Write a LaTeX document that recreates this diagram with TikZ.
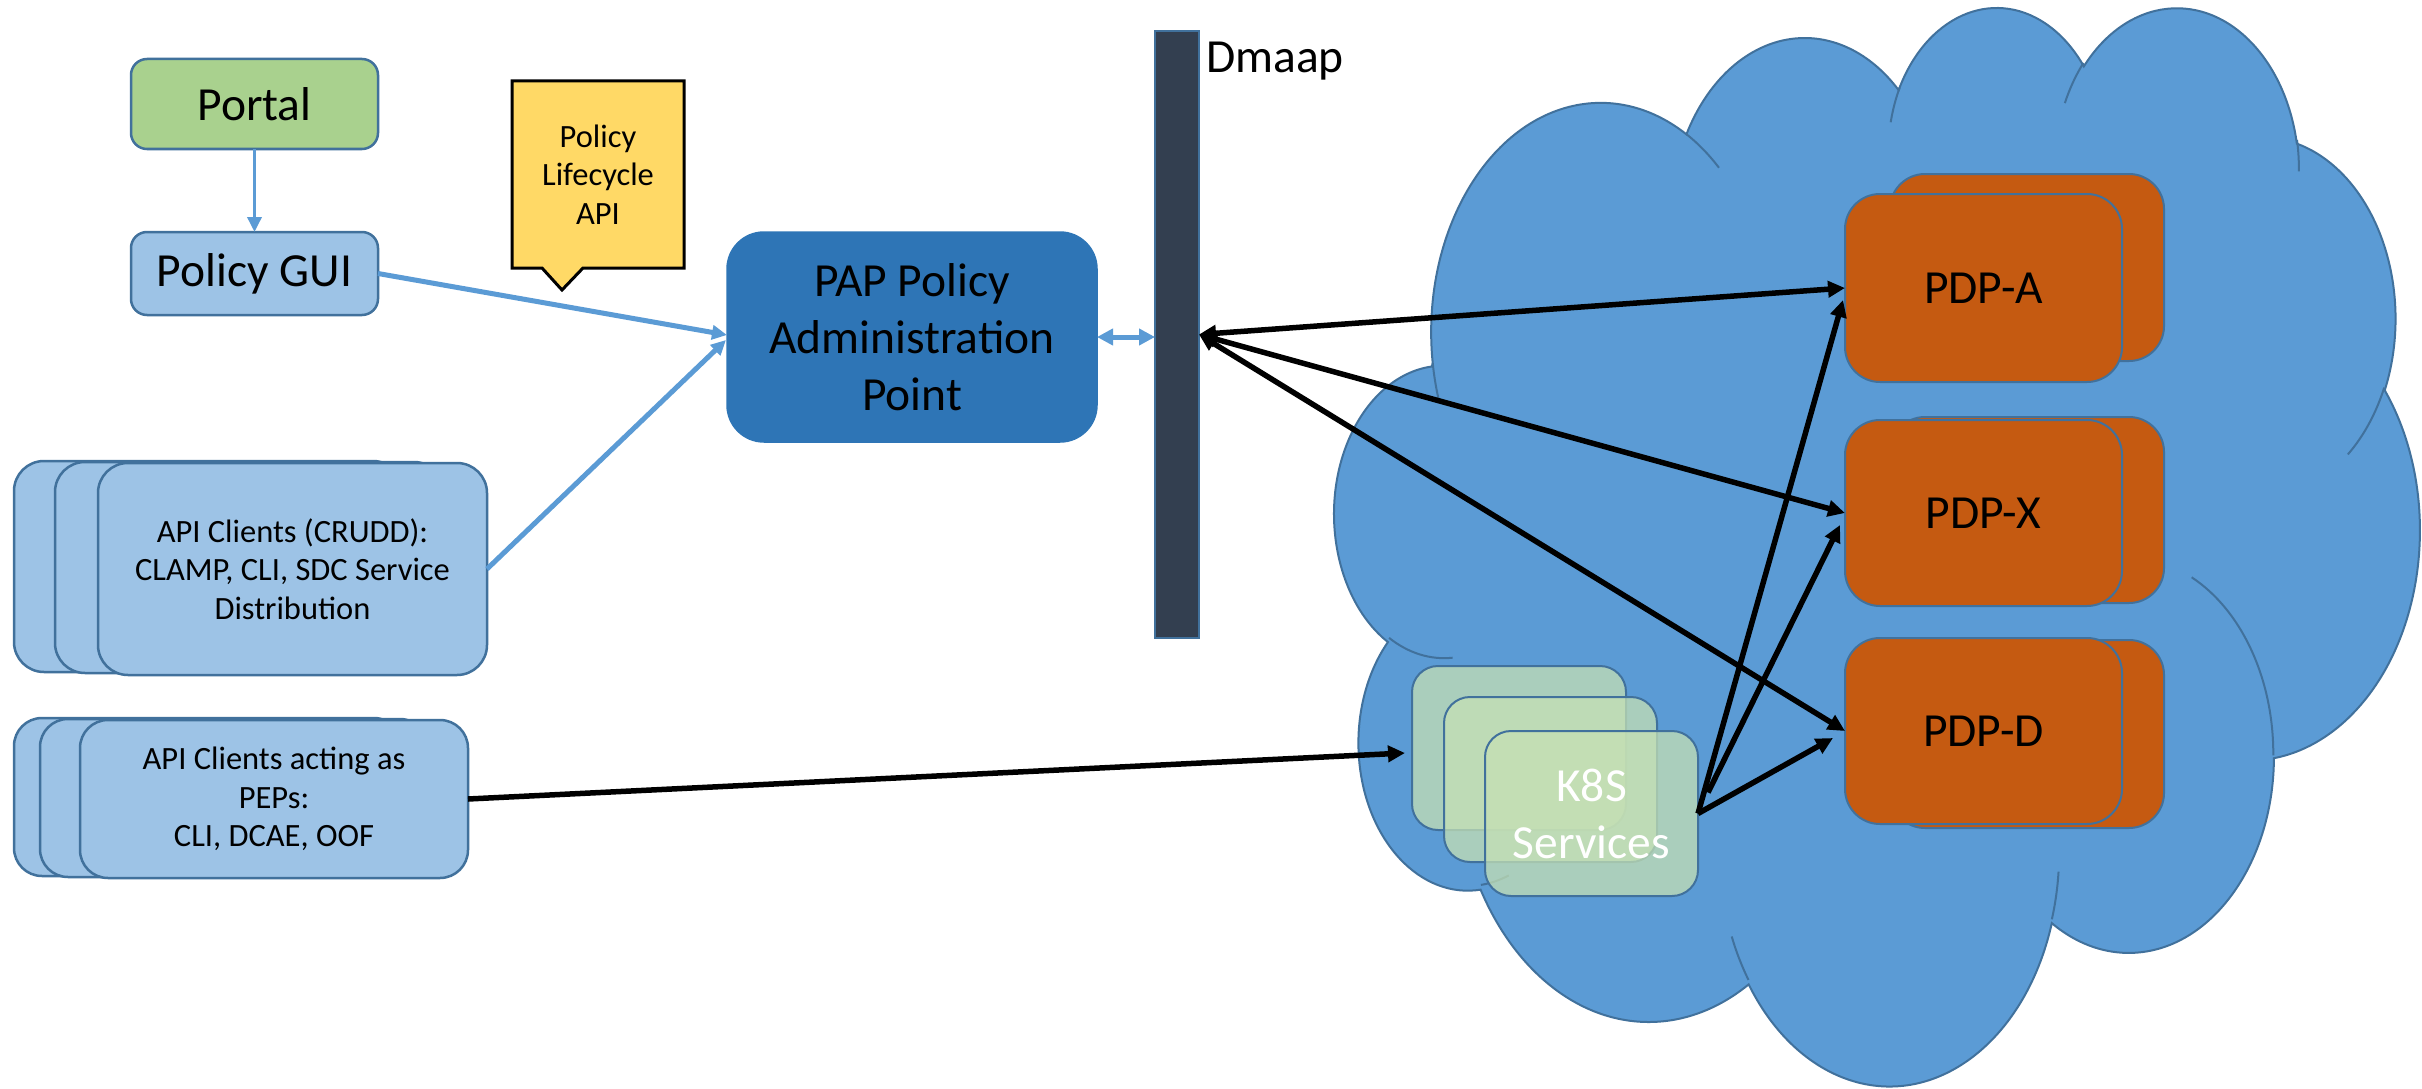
\documentclass[tikz,border=0pt]{standalone}
\usepackage{fontspec}
\setmainfont{Carlito}
\usetikzlibrary{arrows.meta,calc}
\pgfdeclarelayer{bg}
\pgfsetlayers{bg,main}
\definecolor{cgreen}{HTML}{A9D18E}
\definecolor{clight}{HTML}{9DC3E6}
\definecolor{cedge}{HTML}{41719C}
\definecolor{cpap}{HTML}{2E75B6}
\definecolor{cyellow}{HTML}{FFD966}
\definecolor{cdmaap}{HTML}{333F50}
\definecolor{ccloud}{HTML}{5B9BD5}
\definecolor{cpdp}{HTML}{C55A11}
\definecolor{ck8s}{HTML}{C5E0B4}
\definecolor{carrow}{HTML}{5B9BD5}
\tikzset{
  big/.style={font=\fontsize{47.5}{57}\selectfont},
  small/.style={font=\fontsize{32.5}{38.5}\selectfont},
  shapebase/.style={rectangle, inner sep=0pt, outer sep=0pt, align=center},
  leftbox/.style={shapebase, draw=cedge, line width=2.5pt, fill=clight},
  portalbox/.style={shapebase, draw=cedge, line width=2.5pt, fill=cgreen, rounded corners=16pt, big},
  guibox/.style={leftbox, rounded corners=16pt, big},
  clientbox/.style={leftbox, rounded corners=30pt, small, minimum width=389pt, minimum height=211pt},
  pepbox/.style={leftbox, rounded corners=28pt, small, minimum width=388pt, minimum height=158pt},
  papbox/.style={shapebase, fill=cpap, draw=cpap, line width=1.5pt, rounded corners=37pt, big},
  calloutbox/.style={shapebase, small},
  calloutshape/.style={fill=cyellow, draw=black, line width=3pt, line join=miter},
  dmaapbar/.style={shapebase, fill=cdmaap, draw=cedge, line width=2pt},
  pdpbox/.style={shapebase, fill=cpdp, draw=cedge, line width=2pt, rounded corners=35pt, big, minimum width=274pt, minimum height=187pt},
  k8sbox/.style={shapebase, fill=ck8s, fill opacity=0.75, draw=cedge, line width=2pt, rounded corners=26pt, big, text=white, text opacity=1, minimum width=213pt, minimum height=165pt},
  cloudedge/.style={draw=cedge, line width=2pt},
  bluearrow/.style={carrow, line width=5pt, -{Triangle[length=15pt,width=14pt]}},
  bluedouble/.style={carrow, line width=5pt, {Triangle[length=16pt,width=16pt]}-{Triangle[length=16pt,width=16pt]}},
  blackarrow/.style={black, line width=5.5pt, -{Triangle[length=17pt,width=16pt]}},
  blackdouble/.style={black, line width=5.5pt, {Triangle[length=17pt,width=16pt]}-{Triangle[length=17pt,width=16pt]}},
}
\begin{document}
\begin{tikzpicture}[x=1pt,y=-1pt]
\useasboundingbox (0,0) rectangle (2422,1089);
\begin{pgfonlayer}{bg}
\fill[white] (0,0) rectangle (2422,1089);
\end{pgfonlayer}

% cloud
\begin{scope}[shift={(1334.8pt,-4.5pt)}, x=2.5106pt, y=-2.4954pt]
\path[fill=ccloud, cloudedge] (39.00,143.70)
  arc[x radius=67.53, y radius=91.90, start angle=-187.75, end angle=-59.63]
  arc[x radius=53.33, y radius=72.67, start angle=-152.04, end angle=-45.44]
  arc[x radius=43.65, y radius=59.45, start angle=-153.49, end angle=-37.32]
  arc[x radius=48.57, y radius=65.95, start angle=-139.71, end angle=-10.21]
  arc[x radius=53.33, y radius=72.73, start angle=-74.77, end angle=23.21]
  arc[x radius=67.75, y radius=92.20, start angle=-37.53, end angle=81.86]
  arc[x radius=57.85, y radius=78.67, start angle=0.46, end angle=121.97]
  arc[x radius=67.52, y radius=92.15, start angle=16.84, end angle=146.22]
  arc[x radius=77.20, y radius=105.43, start angle=58.98, end angle=150.20]
  arc[x radius=43.60, y radius=59.18, start angle=83.31, end angle=223.12]
  arc[x radius=43.45, y radius=59.45, start angle=120.35, end angle=264.11]
  -- cycle;
\path[cloudedge]
  (46.93,261.77) arc[x radius=43.45, y radius=59.45, start angle=85.55, end angle=120.35]
  (69.28,348.99) arc[x radius=43.60, y radius=59.18, start angle=68.23, end angle=83.31]
  (164.78,390.90) arc[x radius=67.52, y radius=92.15, start angle=146.22, end angle=158.47]
  (288.27,347.51) arc[x radius=67.52, y radius=92.15, start angle=4.74, end angle=16.84]
  (341.29,229.54) arc[x radius=57.85, y radius=78.67, start angle=-64.03, end angle=0.46]
  (417.98,153.54) arc[x radius=53.33, y radius=72.73, start angle=23.21, end angle=49.64]
  (383.24,54.26) arc[x radius=48.57, y radius=65.95, start angle=-10.21, end angle=0.82]
  (290.78,39.52) arc[x radius=48.57, y radius=65.95, start angle=-156.28, end angle=-139.71]
  (221.41,47.20) arc[x radius=43.65, y radius=59.45, start angle=-167.73, end angle=-153.49]
  (140.00,51.92) arc[x radius=67.53, y radius=91.90, start angle=-59.63, end angle=-45.72]
  (41.27,157.89) arc[x radius=67.53, y radius=91.90, start angle=163.19, end angle=172.25];
\end{scope}

% left column
\node[portalbox, minimum width=247pt, minimum height=90pt] (portal) at (254.5,104) {Portal};
\node[guibox, minimum width=247pt, minimum height=83pt] (gui) at (254.5,273.5) {Policy GUI};
\node[clientbox] (crudd1) at (208.5,566.5) {};
\node[clientbox] (crudd2) at (249.5,567.5) {};
\node[clientbox, minimum height=212pt] (crudd) at (292.5,569) {API Clients (CRUDD):\\CLAMP, CLI, SDC Service\\Distribution};
\node[pepbox] (pep1) at (208,797) {};
\node[pepbox] (pep2) at (234,798) {};
\node[pepbox] (pep) at (274,799) {API Clients acting as\\PEPs:\\CLI, DCAE, OOF};

% callout
\node[calloutbox, minimum width=172pt, minimum height=187pt] (callout) at (598,174.5) {Policy\\Lifecycle\\API};
\begin{pgfonlayer}{bg}
\draw[calloutshape] (callout.north west) -- (callout.north east) -- (callout.south east)
  -- ($(callout.south west)+(71,0)$) -- ($(callout.south west)+(50,22)$)
  -- ($(callout.south west)+(30,0)$) -- (callout.south west) -- cycle;
\end{pgfonlayer}

% PAP and Dmaap
\node[papbox, minimum width=370pt, minimum height=210pt] (pap) at (912,337) {PAP Policy\\Administration\\Point};
\node[dmaapbar, minimum width=44pt, minimum height=607pt] (dmaap) at (1177,334.5) {};
\node[big, anchor=base west, inner sep=0pt] (dmaaplbl) at (1206,73) {Dmaap};

% PDPs
\node[pdpbox] (pdpa2) at (2027,267.5) {};
\node[pdpbox, minimum width=277pt, minimum height=188pt] (pdpa) at (1983.5,288) {PDP-A};
\node[pdpbox, minimum height=186pt] (pdpx2) at (2027,510) {};
\node[pdpbox, minimum width=277pt, minimum height=186pt] (pdpx) at (1983.5,513) {PDP-X};
\node[pdpbox, minimum height=188pt] (pdpd2) at (2027,734) {};
\node[pdpbox, minimum width=277pt, minimum height=186pt] (pdpd) at (1983.5,731) {PDP-D};

% K8S
\node[k8sbox, minimum width=214pt, minimum height=164pt] (k8s1) at (1519,748) {};
\node[k8sbox] (k8s2) at (1550.5,779.5) {};
\node[k8sbox] (k8s) at (1591.5,813.5) {K8S\\Services};

% connectors
\draw[bluearrow, line width=3.5pt] (portal.south) -- (gui.north);
\draw[bluearrow] (gui.east) -- ([yshift=2pt]pap.west);
\draw[bluearrow] (crudd.east) -- ([xshift=-1pt,yshift=-3pt]pap.west);
\draw[bluedouble] (pap.east) -- (pap.east -| dmaap.west);
\draw[blackdouble] (dmaap.east) -- (pdpa.west);
\draw[blackdouble] (dmaap.east) -- (pdpx.west);
\draw[blackdouble] (dmaap.east) -- (pdpd.west);
\draw[blackarrow] (pep.east) -- ([xshift=-7pt,yshift=-5pt]k8s1.west);
\draw[blackarrow] (k8s.east) -- ([xshift=-2pt,yshift=-12pt]pdpa.west);
\draw[blackarrow] ([xshift=10pt,yshift=21pt]k8s.east) -- ([xshift=-5pt,yshift=-12pt]pdpx.west);
\draw[blackarrow] (k8s.east) -- ([xshift=-12pt,yshift=-7pt]pdpd.west);
\end{tikzpicture}
\end{document}
